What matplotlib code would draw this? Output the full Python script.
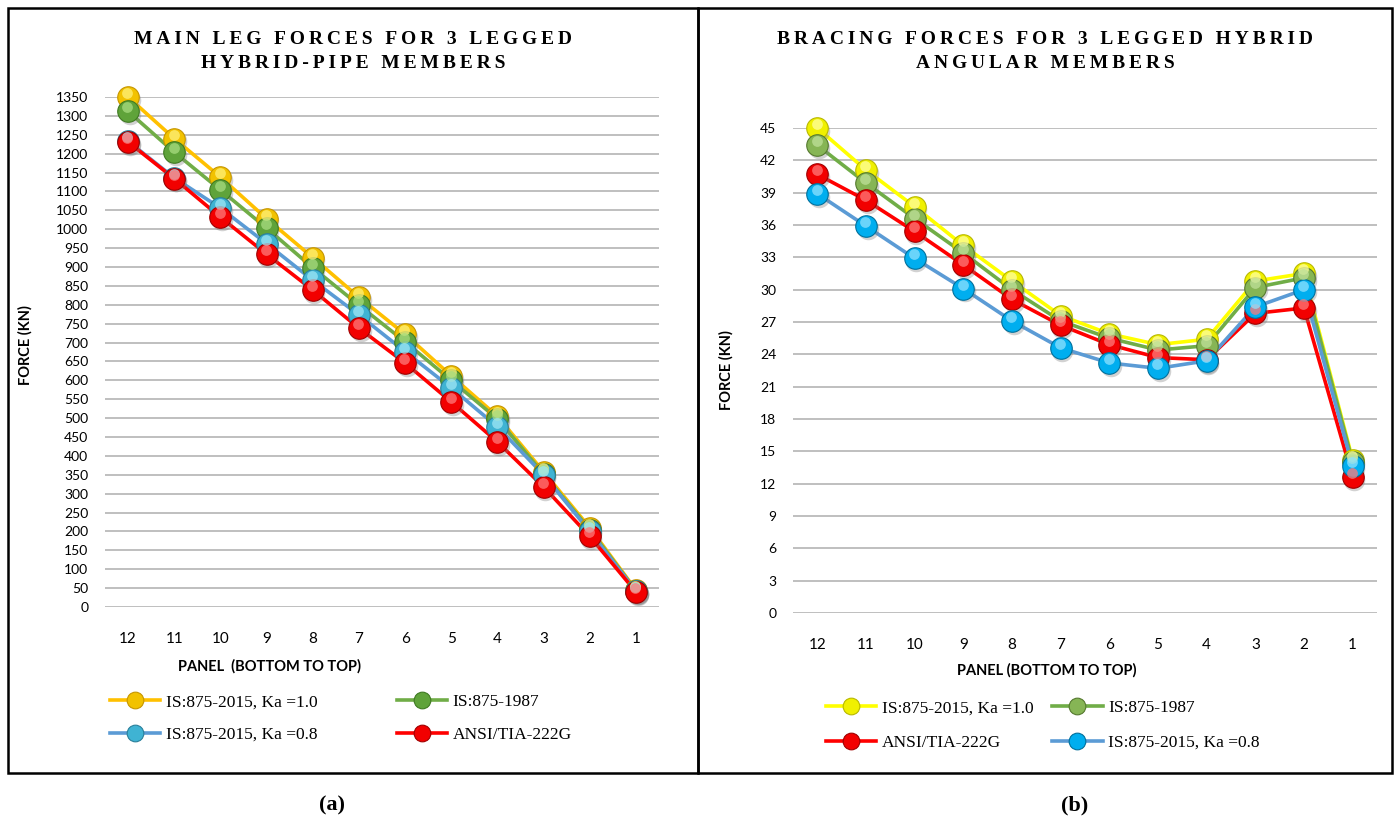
import matplotlib
matplotlib.use("Agg")
from matplotlib import pyplot as plt
from matplotlib.lines import Line2D
from matplotlib.patches import Rectangle
from matplotlib.transforms import offset_copy

# panel numbers along the x axis (bottom to top)
panels = ["12", "11", "10", "9", "8", "7", "6", "5", "4", "3", "2", "1"]

# (a) main leg forces, kN
leg_is2015_k10 = [1350, 1240, 1138, 1028, 925, 820, 722, 612, 505, 358, 210, 45]
leg_is1987 = [1312, 1204, 1104, 1003, 898, 799, 702, 600, 498, 352, 205, 43]
leg_is2015_k08 = [1233, 1136, 1056, 962, 865, 773, 676, 580, 477, 350, 200, 42]
leg_ansi = [1231, 1134, 1032, 934, 839, 738, 646, 543, 437, 318, 187, 40]

# (b) bracing forces, kN
br_is2015_k10 = [45.0, 41.1, 37.7, 34.1, 30.8, 27.6, 25.9, 24.9, 25.4, 30.8, 31.5, 14.2]
br_is1987 = [43.4, 39.9, 36.6, 33.4, 30.0, 27.1, 25.5, 24.4, 24.8, 30.2, 31.1, 14.0]
br_ansi = [40.7, 38.3, 35.4, 32.3, 29.1, 26.7, 24.9, 23.7, 23.5, 27.8, 28.3, 12.6]
br_is2015_k08 = [38.9, 35.9, 32.9, 30.1, 27.1, 24.6, 23.2, 22.7, 23.4, 28.4, 30.0, 13.6]

lbl_k10 = "IS:875-2015, Ka =1.0"
lbl_1987 = "IS:875-1987"
lbl_k08 = "IS:875-2015, Ka =0.8"
lbl_ansi = "ANSI/TIA-222G"

W, H = 1400, 821
fig = plt.figure(figsize=(W / 100, H / 100), dpi=100)
fig.patch.set_facecolor("white")

SANS = ["Lato", "DejaVu Sans"]
SERIF = ["Liberation Serif", "DejaVu Serif"]


def fx(px):
    return px / W


def fy(py):
    return 1 - py / H


def spaced(s):
    # Excel titles use wide letter spacing
    return "\u2009".join(s)


def balls(ax, y, line, base, light, dark, ms=15.5):
    x = list(range(len(y)))
    ax.plot(x, y, color=line, lw=2.6, zorder=3, solid_joinstyle="round")
    shadow = offset_copy(ax.transData, fig=fig, x=1.2, y=-2.0, units="points")
    ax.plot(x, y, "o", ms=ms, mfc="#7f7f7f", mec="none", alpha=0.35,
            transform=shadow, zorder=3, clip_on=False)
    ax.plot(x, y, "o", ms=ms, mfc=base, mec=dark, mew=0.8, zorder=4, clip_on=False)
    hi = offset_copy(ax.transData, fig=fig, x=-0.5, y=2.9, units="points")
    ax.plot(x, y, "o", ms=ms * 0.5, mfc=light, mec="none", alpha=0.75,
            transform=hi, zorder=5, clip_on=False)


def style_axes(ax, ymax, step):
    ax.set_xlim(-0.5, len(panels) - 0.5)
    ax.set_ylim(0, ymax)
    ax.set_yticks(range(0, ymax + 1, step))
    ax.set_xticks(range(len(panels)))
    ax.set_xticklabels(panels)
    ax.grid(axis="y", color="#bfbfbf", lw=1.4)
    ax.set_axisbelow(True)
    for sp in ax.spines.values():
        sp.set_visible(False)
    ax.tick_params(axis="both", length=0, labelsize=10, colors="black")
    ax.tick_params(axis="x", pad=18, labelsize=11)
    ax.tick_params(axis="y", pad=12)
    for t in ax.get_xticklabels() + ax.get_yticklabels():
        t.set_family(SANS)


def legend_handle(line, base, dark):
    return Line2D([], [], color=line, lw=2.6, marker="o", ms=12, mfc=base, mec=dark, mew=0.8)


# ---- (a) main leg forces
ax1 = fig.add_axes([fx(105), fy(607), fx(659 - 105), fy(97) - fy(607)])
balls(ax1, leg_is2015_k10, "#ffc000", "#f2c200", "#fff27a", "#c69600")
balls(ax1, leg_is1987, "#70ad47", "#5fa33a", "#a8dc80", "#3f7a22")
balls(ax1, leg_is2015_k08, "#5b9bd5", "#3fb3d3", "#9fe6f5", "#2a7f9a")
balls(ax1, leg_ansi, "#ff0000", "#f20000", "#ff7a7a", "#a00000")
style_axes(ax1, 1350, 50)

fig.text(fx(353), fy(40), spaced("MAIN LEG FORCES FOR 3 LEGGED"), ha="center", va="center",
         family=SERIF, weight="bold", fontsize=14)
fig.text(fx(353), fy(64), spaced("HYBRID-PIPE MEMBERS"), ha="center", va="center",
         family=SERIF, weight="bold", fontsize=14)
fig.text(fx(25), fy(345), "FORCE (KN)", rotation=90, ha="center", va="center",
         family=SANS, weight="bold", fontsize=10.5)
fig.text(fx(270), fy(666), "PANEL  (BOTTOM TO TOP)", ha="center", va="center",
         family=SANS, weight="bold", fontsize=10.5)

h1 = [legend_handle("#ffc000", "#f2c200", "#c69600"),
      legend_handle("#5b9bd5", "#3fb3d3", "#2a7f9a"),
      legend_handle("#70ad47", "#5fa33a", "#3f7a22"),
      legend_handle("#ff0000", "#f20000", "#a00000")]
fig.legend(h1, [lbl_k10, lbl_k08, lbl_1987, lbl_ansi], ncol=2, frameon=False,
           loc="center left", bbox_to_anchor=(fx(110), fy(718.5)),
           prop={"family": SERIF, "size": 12.5}, handlelength=2.9, handletextpad=0.3,
           columnspacing=4.6, labelspacing=0.95, borderpad=0, borderaxespad=0)

# ---- (b) bracing forces
ax2 = fig.add_axes([fx(793), fy(613), fx(1377 - 793), fy(128) - fy(613)])
balls(ax2, br_is2015_k10, "#ffff00", "#f0f000", "#ffffa0", "#b8b800")
balls(ax2, br_is1987, "#70ad47", "#86b555", "#bfe09a", "#55792f")
balls(ax2, br_ansi, "#ff0000", "#f20000", "#ff7a7a", "#a00000")
balls(ax2, br_is2015_k08, "#5b9bd5", "#00aeef", "#8fe2ff", "#00709c")
style_axes(ax2, 45, 3)

fig.text(fx(1045), fy(40), spaced("BRACING FORCES FOR 3 LEGGED HYBRID"), ha="center", va="center",
         family=SERIF, weight="bold", fontsize=14)
fig.text(fx(1045), fy(64), spaced("ANGULAR MEMBERS"), ha="center", va="center",
         family=SERIF, weight="bold", fontsize=14)
fig.text(fx(726), fy(370), "FORCE (KN)", rotation=90, ha="center", va="center",
         family=SANS, weight="bold", fontsize=10.5)
fig.text(fx(1047), fy(670), "PANEL (BOTTOM TO TOP)", ha="center", va="center",
         family=SANS, weight="bold", fontsize=10.5)

h2 = [legend_handle("#ffff00", "#f0f000", "#b8b800"),
      legend_handle("#ff0000", "#f20000", "#a00000"),
      legend_handle("#70ad47", "#86b555", "#55792f"),
      legend_handle("#5b9bd5", "#00aeef", "#00709c")]
fig.legend(h2, [lbl_k10, lbl_ansi, lbl_1987, lbl_k08], ncol=2, frameon=False,
           loc="center left", bbox_to_anchor=(fx(826), fy(725.5)),
           prop={"family": SERIF, "size": 12.5}, handlelength=2.9, handletextpad=0.3,
           columnspacing=1.1, labelspacing=1.05, borderpad=0, borderaxespad=0)

# panel frames and captions
for x0, x1 in [(8, 698), (698, 1392)]:
    fig.add_artist(Rectangle((fx(x0), fy(773)), fx(x1 - x0), fy(8) - fy(773),
                             transform=fig.transFigure, fill=False, ec="black", lw=1.8))
fig.text(fx(332), fy(805), "(a)", ha="center", va="center", family=SERIF, weight="bold", fontsize=16)
fig.text(fx(1075), fy(805), "(b)", ha="center", va="center", family=SERIF, weight="bold", fontsize=16)

fig.savefig("out.png", dpi=100)
